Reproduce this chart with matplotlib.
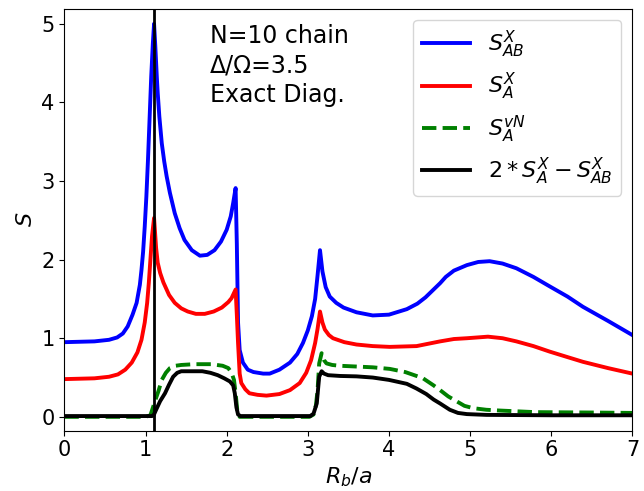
import matplotlib
matplotlib.use("Agg")
import matplotlib.pyplot as plt

# S_AB^X (blue)
x_ab = [0.0, 0.37, 0.55, 0.65, 0.72, 0.78, 0.84, 0.89, 0.93, 0.95, 0.97, 0.99, 1.01, 1.03,
        1.05, 1.07, 1.09, 1.105, 1.12, 1.14, 1.15, 1.17, 1.2, 1.23, 1.26, 1.3, 1.36, 1.42,
        1.48, 1.57, 1.67, 1.76, 1.85, 1.93, 2.0, 2.05, 2.08, 2.11,
        2.125, 2.14, 2.16, 2.2, 2.26, 2.33, 2.45, 2.53, 2.65, 2.78, 2.87, 2.94, 3.0, 3.05, 3.09,
        3.12, 3.15, 3.18, 3.22, 3.27, 3.35, 3.44, 3.6, 3.8, 4.0, 4.22, 4.35, 4.45, 4.55, 4.63,
        4.7, 4.8, 4.96, 5.1, 5.24, 5.4, 5.57, 5.78, 5.98, 6.2, 6.39, 6.7, 7.0]
s_ab = [0.95, 0.96, 0.98, 1.01, 1.06, 1.15, 1.3, 1.45, 1.68, 1.87, 2.1, 2.42, 2.8, 3.27,
        3.8, 4.33, 4.75, 5.0, 4.72, 4.3, 4.12, 3.82, 3.48, 3.25, 3.06, 2.85, 2.59, 2.4,
        2.25, 2.12, 2.05, 2.06, 2.12, 2.23, 2.38, 2.55, 2.72, 2.91,
        2.2, 1.2, 0.85, 0.69, 0.6, 0.57, 0.55, 0.55, 0.6, 0.69, 0.8, 0.94, 1.1, 1.28, 1.5,
        1.8, 2.12, 1.85, 1.65, 1.53, 1.45, 1.39, 1.33, 1.29, 1.3, 1.37, 1.44, 1.52, 1.62, 1.7,
        1.78, 1.86, 1.93, 1.97, 1.98, 1.95, 1.89, 1.78, 1.66, 1.53, 1.4, 1.22, 1.04]

# S_A^X (red)
x_a = [0.0, 0.37, 0.55, 0.66, 0.75, 0.83, 0.9, 0.95, 0.99, 1.02, 1.04, 1.06, 1.08, 1.105,
       1.13, 1.15, 1.18, 1.22, 1.29, 1.36, 1.44, 1.52, 1.62, 1.73, 1.84, 1.94, 2.02, 2.06, 2.11,
       2.125, 2.14, 2.16, 2.18, 2.23, 2.28, 2.38, 2.49, 2.65, 2.78, 2.9, 2.98, 3.04, 3.09,
       3.12, 3.15, 3.18, 3.21, 3.26, 3.31, 3.45, 3.6, 3.8, 4.01, 4.34, 4.63, 4.8, 4.96,
       5.22, 5.4, 5.57, 5.78, 5.98, 6.2, 6.39, 6.7, 7.0]
s_a = [0.48, 0.49, 0.51, 0.54, 0.6, 0.69, 0.82, 0.98, 1.2, 1.45, 1.7, 2.0, 2.3, 2.53,
       2.15, 1.96, 1.83, 1.71, 1.55, 1.45, 1.38, 1.34, 1.31, 1.31, 1.34, 1.39, 1.46, 1.51, 1.62,
       1.3, 0.94, 0.55, 0.43, 0.35, 0.3, 0.28, 0.27, 0.29, 0.34, 0.43, 0.56, 0.72, 0.94,
       1.12, 1.34, 1.2, 1.11, 1.04, 1.0, 0.95, 0.92, 0.9, 0.89, 0.9, 0.96, 0.99, 1.0,
       1.02, 1.0, 0.96, 0.9, 0.83, 0.76, 0.7, 0.62, 0.55]

# S_A^vN (green dashed)
x_vn = [0.0, 1.0, 1.06, 1.11, 1.16, 1.2, 1.25, 1.3, 1.37, 1.44, 1.6, 1.81, 1.95, 2.02,
        2.06, 2.09, 2.11, 2.13, 2.16, 3.02, 3.07, 3.1, 3.12, 3.14, 3.17, 3.2, 3.23, 3.3,
        3.39, 3.6, 3.8, 4.01, 4.2, 4.34, 4.42, 4.55, 4.63, 4.73, 4.83, 4.93, 5.04, 5.2,
        5.37, 5.8, 6.5, 7.0]
s_vn = [0.0, 0.0, 0.02, 0.18, 0.33, 0.47, 0.56, 0.62, 0.65, 0.66, 0.67, 0.67, 0.65, 0.62,
        0.56, 0.47, 0.3, 0.09, 0.0, 0.0, 0.03, 0.15, 0.34, 0.68, 0.81, 0.72, 0.68, 0.66,
        0.65, 0.64, 0.63, 0.61, 0.57, 0.52, 0.49, 0.4, 0.34, 0.26, 0.2, 0.14, 0.11, 0.09,
        0.08, 0.06, 0.055, 0.05]

# 2*S_A^X - S_AB^X (black)
x_diff = [0.0, 1.08, 1.1, 1.13, 1.18, 1.24, 1.29, 1.34, 1.39, 1.44, 1.6, 1.7, 1.8, 1.89,
          1.97, 2.04, 2.08, 2.1, 2.12, 2.14, 2.17, 3.03, 3.07, 3.11, 3.14, 3.17, 3.2, 3.25,
          3.4, 3.6, 3.8, 4.0, 4.22, 4.34, 4.46, 4.55, 4.63, 4.75, 4.85, 4.96, 5.2, 6.0, 7.0]
s_diff = [0.01, 0.01, 0.02, 0.09, 0.2, 0.3, 0.41, 0.51, 0.56, 0.58, 0.58, 0.58, 0.56, 0.53,
          0.49, 0.45, 0.4, 0.3, 0.12, 0.03, 0.01, 0.01, 0.04, 0.17, 0.51, 0.58, 0.55, 0.53,
          0.52, 0.515, 0.5, 0.47, 0.42, 0.36, 0.29, 0.22, 0.17, 0.09, 0.05, 0.035, 0.025, 0.02, 0.02]

r_mark = 1.1

fig = plt.figure(figsize=(6.44, 4.91), dpi=100)
ax = fig.add_axes([0.100, 0.123, 0.882, 0.859])

ax.plot(x_ab, s_ab, color='blue', lw=2.8, label=r'$S^X_{AB}$')
ax.plot(x_a, s_a, color='red', lw=2.8, label=r'$S^X_A$')
ax.plot(x_vn, s_vn, color='green', lw=2.8, ls='--', label=r'$S^{vN}_A$')
ax.plot(x_diff, s_diff, color='black', lw=2.8, label=r'$2*S^X_A-S^X_{AB}$')
ax.axvline(r_mark, color='black', lw=2)

ax.text(0.256, 0.965, 'N=10 chain\nΔ/Ω=3.5\nExact Diag.', transform=ax.transAxes,
        fontsize=17, va='top', ha='left', linespacing=1.3)

ax.set_xlim(0, 7)
ax.set_ylim(-0.175, 5.19)
ax.set_xticks(range(0, 8))
ax.set_yticks(range(0, 6))
ax.tick_params(labelsize=15)
ax.set_xlabel(r'$R_b/a$', fontsize=16)
ax.set_ylabel(r'$S$', fontsize=16)
ax.legend(loc='upper right', fontsize=16, handlelength=2.15)

fig.savefig('out.png', dpi=100)
